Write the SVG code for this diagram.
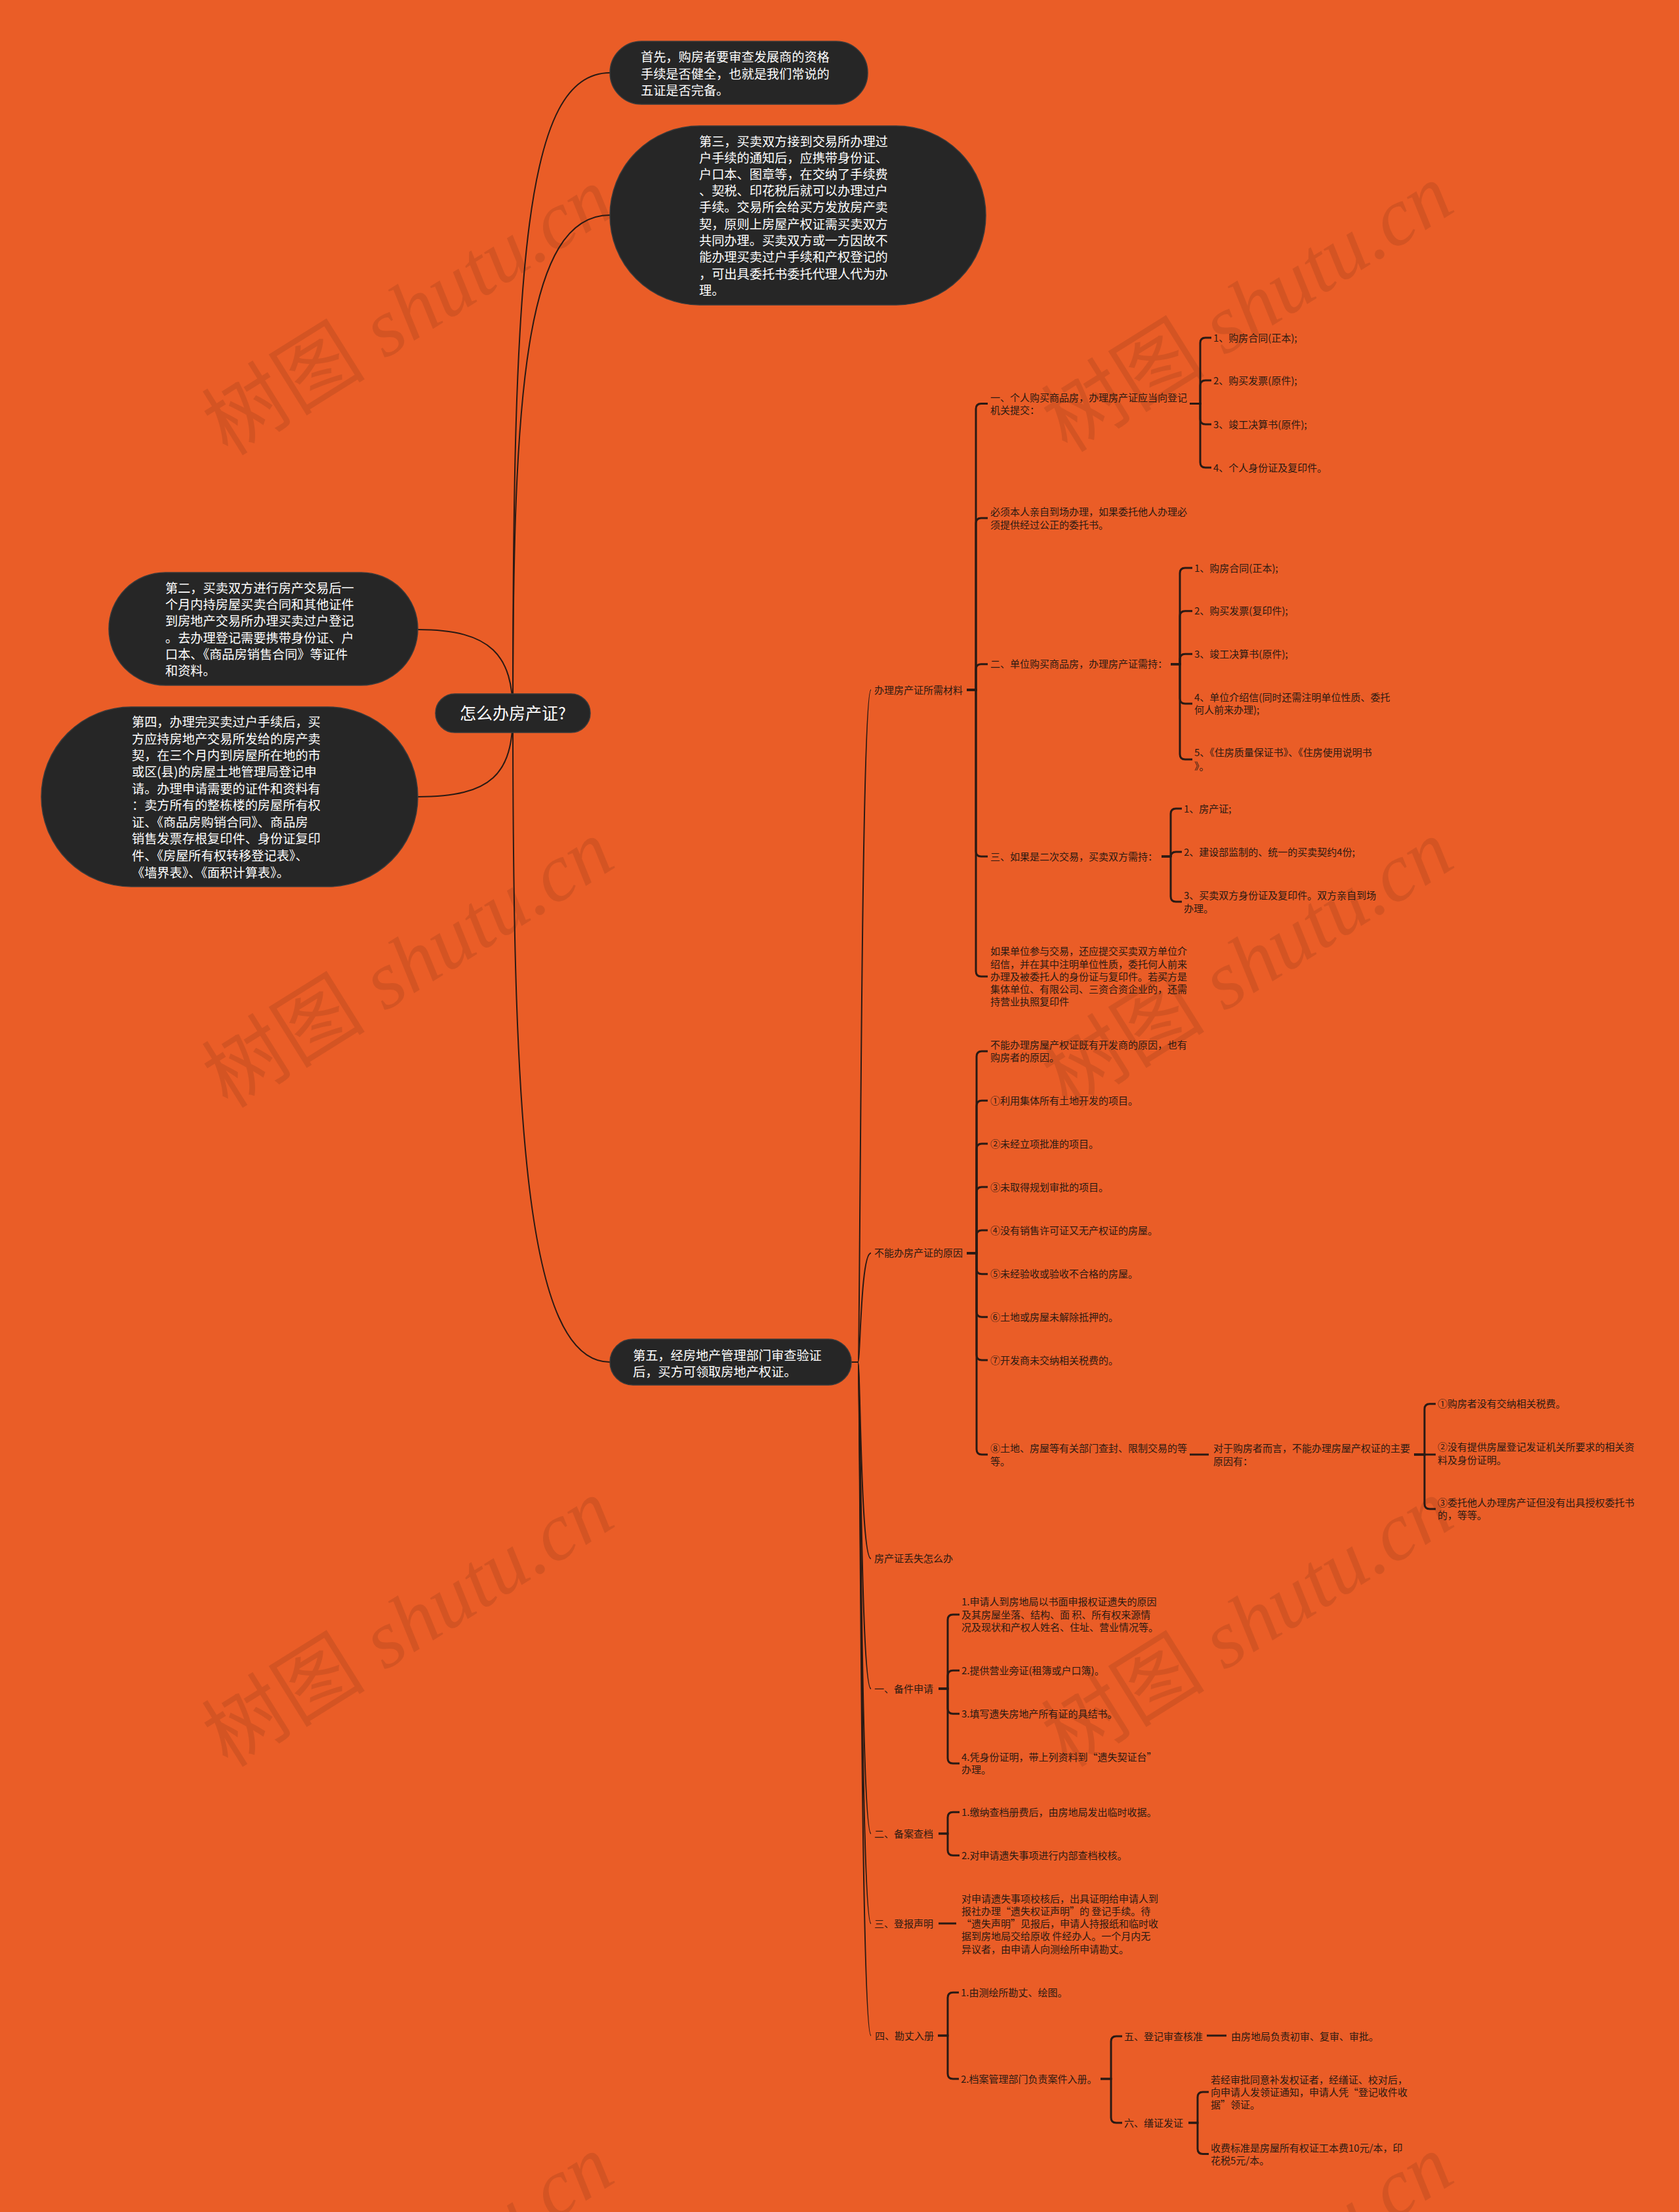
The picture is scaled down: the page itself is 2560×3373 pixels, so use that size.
<svg xmlns="http://www.w3.org/2000/svg" width="2560" height="3373" viewBox="0 0 2560 3373">
<style>
.nd{fill:#262626;stroke:#3a3a3a;stroke-width:1.5}
.nt{fill:#ffffff;font-family:"Noto Sans CJK SC","Noto Sans",sans-serif;font-size:19.2px}
.rt{fill:#ffffff;font-family:"Noto Sans CJK SC","Noto Sans",sans-serif;font-size:25px;text-anchor:middle}
.t{fill:#2b1a12;font-family:"Noto Sans CJK SC","Noto Sans",sans-serif;font-size:15px}
.c{fill:none;stroke:#2a1a14;stroke-width:2}
.b{fill:none;stroke:#2a1a14;stroke-width:3}
.wm{fill:#000000;opacity:0.09;font-size:125px;text-anchor:middle}
.wc{font-family:"Noto Sans CJK SC",serif}
.we{font-family:"Liberation Serif",serif;font-style:italic}
</style>
<rect width="2560" height="3373" fill="#EA5D27"/>
<g id="watermarks">
<text class="wm" transform="translate(645,511) rotate(-32)"><tspan class="wc">树图</tspan><tspan class="we"> shutu.cn</tspan></text>
<text class="wm" transform="translate(1925,506) rotate(-32)"><tspan class="wc">树图</tspan><tspan class="we"> shutu.cn</tspan></text>
<text class="wm" transform="translate(645,1506) rotate(-32)"><tspan class="wc">树图</tspan><tspan class="we"> shutu.cn</tspan></text>
<text class="wm" transform="translate(1925,1506) rotate(-32)"><tspan class="wc">树图</tspan><tspan class="we"> shutu.cn</tspan></text>
<text class="wm" transform="translate(645,2511) rotate(-32)"><tspan class="wc">树图</tspan><tspan class="we"> shutu.cn</tspan></text>
<text class="wm" transform="translate(1925,2511) rotate(-32)"><tspan class="wc">树图</tspan><tspan class="we"> shutu.cn</tspan></text>
<text class="wm" transform="translate(645,3511) rotate(-32)"><tspan class="wc">树图</tspan><tspan class="we"> shutu.cn</tspan></text>
<text class="wm" transform="translate(1925,3511) rotate(-32)"><tspan class="wc">树图</tspan><tspan class="we"> shutu.cn</tspan></text>
</g>
<g id="connectors">
<path class="c" d="M782,1088 C782,400 800,111 930,111"/>
<path class="c" d="M782,1088 C782,600 800,328 930,328"/>
<path class="c" d="M782,1088 C782,1000 750,960 637,960"/>
<path class="c" d="M782,1088 C782,1180 750,1215 637,1215"/>
<path class="c" d="M782,1088 C782,1700 800,2077 930,2077"/>
<path class="c" d="M1298,2077 H1308 C1312,2077 1312,1052 1328,1052"/>
<path class="c" d="M1298,2077 H1308 C1312,2077 1312,1910.7 1328,1910.7"/>
<path class="c" d="M1298,2077 H1308 C1312,2077 1312,2376.7 1328,2376.7"/>
<path class="c" d="M1298,2077 H1308 C1312,2077 1312,2575 1328,2575"/>
<path class="c" d="M1298,2077 H1308 C1312,2077 1312,2796 1328,2796"/>
<path class="c" d="M1298,2077 H1308 C1312,2077 1312,2933 1328,2933"/>
<path class="c" d="M1298,2077 H1308 C1312,2077 1312,3104 1328,3104"/>
<path class="b" d="M1474,1052 H1488 V623.5 Q1488,615.5 1496,615.5 H1506"/>
<path class="b" d="M1474,1052 H1488 V798 Q1488,790 1496,790 H1506"/>
<path class="b" d="M1474,1052 H1488 V1020.7 Q1488,1012.7 1496,1012.7 H1506"/>
<path class="b" d="M1474,1052 H1488 V1298 Q1488,1306 1496,1306 H1506"/>
<path class="b" d="M1474,1052 H1488 V1481 Q1488,1489 1496,1489 H1506"/>
<path class="b" d="M1814,615.5 H1830 V523 Q1830,515 1838,515 H1847"/>
<path class="b" d="M1814,615.5 H1830 V588 Q1830,580 1838,580 H1847"/>
<path class="b" d="M1814,615.5 H1830 V639 Q1830,647 1838,647 H1847"/>
<path class="b" d="M1814,615.5 H1830 V705 Q1830,713 1838,713 H1847"/>
<path class="b" d="M1785,1012.7 H1799 V874 Q1799,866 1807,866 H1818"/>
<path class="b" d="M1785,1012.7 H1799 V939.7 Q1799,931.7 1807,931.7 H1818"/>
<path class="b" d="M1785,1012.7 H1799 V1005.3 Q1799,997.3 1807,997.3 H1818"/>
<path class="b" d="M1785,1012.7 H1799 V1065 Q1799,1073 1807,1073 H1818"/>
<path class="b" d="M1785,1012.7 H1799 V1150 Q1799,1158 1807,1158 H1818"/>
<path class="b" d="M1771,1306 H1785 V1241 Q1785,1233 1793,1233 H1802"/>
<path class="b" d="M1771,1306 H1785 V1307 Q1785,1299 1793,1299 H1802"/>
<path class="b" d="M1771,1306 H1785 V1367 Q1785,1375 1793,1375 H1802"/>
<path class="b" d="M1474,1910.7 H1489 V1611 Q1489,1603 1497,1603 H1506"/>
<path class="b" d="M1474,1910.7 H1489 V1686.3 Q1489,1678.3 1497,1678.3 H1506"/>
<path class="b" d="M1474,1910.7 H1489 V1752 Q1489,1744 1497,1744 H1506"/>
<path class="b" d="M1474,1910.7 H1489 V1818 Q1489,1810 1497,1810 H1506"/>
<path class="b" d="M1474,1910.7 H1489 V1884 Q1489,1876 1497,1876 H1506"/>
<path class="b" d="M1474,1910.7 H1489 V1934.7 Q1489,1942.7 1497,1942.7 H1506"/>
<path class="b" d="M1474,1910.7 H1489 V2000.3 Q1489,2008.3 1497,2008.3 H1506"/>
<path class="b" d="M1474,1910.7 H1489 V2066 Q1489,2074 1497,2074 H1506"/>
<path class="b" d="M1474,1910.7 H1489 V2210 Q1489,2218 1497,2218 H1506"/>
<path class="b" d="M1814,2218 H1843"/>
<path class="b" d="M2156,2218 H2172 V2148.7 Q2172,2140.7 2180,2140.7 H2189"/>
<path class="b" d="M2156,2218 H2189"/>
<path class="b" d="M2156,2218 H2172 V2293 Q2172,2301 2180,2301 H2189"/>
<path class="b" d="M1431,2575 H1445 V2470 Q1445,2462 1453,2462 H1463"/>
<path class="b" d="M1431,2575 H1445 V2555.3 Q1445,2547.3 1453,2547.3 H1463"/>
<path class="b" d="M1431,2575 H1445 V2605.3 Q1445,2613.3 1453,2613.3 H1463"/>
<path class="b" d="M1431,2575 H1445 V2681 Q1445,2689 1453,2689 H1463"/>
<path class="b" d="M1431,2796 H1445 V2771.3 Q1445,2763.3 1453,2763.3 H1463"/>
<path class="b" d="M1431,2796 H1445 V2821.3 Q1445,2829.3 1453,2829.3 H1463"/>
<path class="b" d="M1431,2933 H1458"/>
<path class="b" d="M1430,3104 H1445 V3046.3 Q1445,3038.3 1453,3038.3 H1462"/>
<path class="b" d="M1430,3104 H1445 V3162 Q1445,3170 1453,3170 H1462"/>
<path class="b" d="M1678,3170 H1694 V3113 Q1694,3105 1702,3105 H1711"/>
<path class="b" d="M1678,3170 H1694 V3229 Q1694,3237 1702,3237 H1711"/>
<path class="b" d="M1840,3104 H1870"/>
<path class="b" d="M1812,3237 H1826 V3198 Q1826,3190 1834,3190 H1843"/>
<path class="b" d="M1812,3237 H1826 V3276.5 Q1826,3284.5 1834,3284.5 H1843"/>
</g>
<g id="root">
<rect class="nd" x="664" y="1058" width="236" height="59" rx="29.5"/>
<text class="rt" x="782" y="1097">怎么办房产证?</text>
</g>
<g id="n-first">
<rect class="nd" x="930" y="63" width="393" height="96" rx="48"/>
<text class="nt"><tspan x="977" y="94">首先，购房者要审查发展商的资格</tspan><tspan x="977" y="120">手续是否健全，也就是我们常说的</tspan><tspan x="977" y="145">五证是否完备。</tspan></text>
</g>
<g id="n-third">
<rect class="nd" x="930" y="192" width="573" height="273" rx="136.5"/>
<text class="nt"><tspan x="1066" y="222.7">第三，买卖双方接到交易所办理过</tspan><tspan x="1066" y="248">户手续的通知后，应携带身份证、</tspan><tspan x="1066" y="273">户口本、图章等，在交纳了手续费</tspan><tspan x="1066" y="297.7">、契税、印花税后就可以办理过户</tspan><tspan x="1066" y="322.7">手续。交易所会给买方发放房产卖</tspan><tspan x="1066" y="348.7">契，原则上房屋产权证需买卖双方</tspan><tspan x="1066" y="373.7">共同办理。买卖双方或一方因故不</tspan><tspan x="1066" y="399.3">能办理买卖过户手续和产权登记的</tspan><tspan x="1066" y="425.3">，可出具委托书委托代理人代为办</tspan><tspan x="1066" y="450.3">理。</tspan></text>
</g>
<g id="n-second">
<rect class="nd" x="166" y="873" width="471" height="172" rx="86"/>
<text class="nt"><tspan x="252" y="903.7">第二，买卖双方进行房产交易后一</tspan><tspan x="252" y="929.3">个月内持房屋买卖合同和其他证件</tspan><tspan x="252" y="954.3">到房地产交易所办理买卖过户登记</tspan><tspan x="252" y="980.3">。去办理登记需要携带身份证、户</tspan><tspan x="252" y="1005.3">口本、《商品房销售合同》等证件</tspan><tspan x="252" y="1030.3">和资料。</tspan></text>
</g>
<g id="n-fourth">
<rect class="nd" x="63" y="1078" width="574" height="274" rx="137"/>
<text class="nt"><tspan x="201" y="1107.7">第四，办理完买卖过户手续后，买</tspan><tspan x="201" y="1133.7">方应持房地产交易所发给的房产卖</tspan><tspan x="201" y="1158.7">契，在三个月内到房屋所在地的市</tspan><tspan x="201" y="1184.3">或区(县)的房屋土地管理局登记申</tspan><tspan x="201" y="1209.7">请。办理申请需要的证件和资料有</tspan><tspan x="201" y="1235.3">：卖方所有的整栋楼的房屋所有权</tspan><tspan x="201" y="1261">证、《商品房购销合同》、商品房</tspan><tspan x="201" y="1286.3">销售发票存根复印件、身份证复印</tspan><tspan x="201" y="1312">件、《房屋所有权转移登记表》、</tspan><tspan x="201" y="1337.7">《墙界表》、《面积计算表》。</tspan></text>
</g>
<g id="n-fifth">
<rect class="nd" x="930" y="2042" width="368" height="70" rx="35"/>
<text class="nt"><tspan x="965" y="2074">第五，经房地产管理部门审查验证</tspan><tspan x="965" y="2099">后，买方可领取房地产权证。</tspan></text>
</g>
<g id="n-materials"><text class="t" x="1333" y="1057.5">办理房产证所需材料</text></g>
<g id="n-m1"><text class="t"><tspan x="1510" y="611.5">一、个人购买商品房，办理房产证应当向登记</tspan><tspan x="1510" y="630.5">机关提交：</tspan></text></g>
<g id="n-m1-1"><text class="t" x="1850" y="520.5">1、购房合同(正本);</text></g>
<g id="n-m1-2"><text class="t" x="1850" y="585.5">2、购买发票(原件);</text></g>
<g id="n-m1-3"><text class="t" x="1850" y="652.5">3、竣工决算书(原件);</text></g>
<g id="n-m1-4"><text class="t" x="1850" y="718.5">4、个人身份证及复印件。</text></g>
<g id="n-m-must"><text class="t"><tspan x="1510" y="786.2">必须本人亲自到场办理，如果委托他人办理必</tspan><tspan x="1510" y="805.5">须提供经过公正的委托书。</tspan></text></g>
<g id="n-m2"><text class="t" x="1510" y="1018.2">二、单位购买商品房，办理房产证需持：</text></g>
<g id="n-m2-1"><text class="t" x="1821" y="871.5">1、购房合同(正本);</text></g>
<g id="n-m2-2"><text class="t" x="1821" y="937.2">2、购买发票(复印件);</text></g>
<g id="n-m2-3"><text class="t" x="1821" y="1002.8">3、竣工决算书(原件);</text></g>
<g id="n-m2-4"><text class="t"><tspan x="1821" y="1068.8">4、单位介绍信(同时还需注明单位性质、委托</tspan><tspan x="1821" y="1088.2">何人前来办理);</tspan></text></g>
<g id="n-m2-5"><text class="t"><tspan x="1821" y="1153.2">5、《住房质量保证书》、《住房使用说明书</tspan><tspan x="1821" y="1173.8">》。</tspan></text></g>
<g id="n-m3"><text class="t" x="1510" y="1311.5">三、如果是二次交易，买卖双方需持：</text></g>
<g id="n-m3-1"><text class="t" x="1805" y="1238.5">1、房产证;</text></g>
<g id="n-m3-2"><text class="t" x="1805" y="1304.5">2、建设部监制的、统一的买卖契约4份;</text></g>
<g id="n-m3-3"><text class="t"><tspan x="1805" y="1370.5">3、买卖双方身份证及复印件。双方亲自到场</tspan><tspan x="1805" y="1390.5">办理。</tspan></text></g>
<g id="n-m-unit"><text class="t"><tspan x="1510" y="1456.2">如果单位参与交易，还应提交买卖双方单位介</tspan><tspan x="1510" y="1475.5">绍信，并在其中注明单位性质，委托何人前来</tspan><tspan x="1510" y="1494.5">办理及被委托人的身份证与复印件。若买方是</tspan><tspan x="1510" y="1513.8">集体单位、有限公司、三资合资企业的，还需</tspan><tspan x="1510" y="1532.8">持营业执照复印件</tspan></text></g>
<g id="n-reasons"><text class="t" x="1333" y="1916.2">不能办房产证的原因</text></g>
<g id="n-r0"><text class="t"><tspan x="1510" y="1598.8">不能办理房屋产权证既有开发商的原因，也有</tspan><tspan x="1510" y="1617.8">购房者的原因。</tspan></text></g>
<g id="n-r1"><text class="t" x="1510" y="1683.8">①利用集体所有土地开发的项目。</text></g>
<g id="n-r2"><text class="t" x="1510" y="1749.5">②未经立项批准的项目。</text></g>
<g id="n-r3"><text class="t" x="1510" y="1815.5">③未取得规划审批的项目。</text></g>
<g id="n-r4"><text class="t" x="1510" y="1881.5">④没有销售许可证又无产权证的房屋。</text></g>
<g id="n-r5"><text class="t" x="1510" y="1948.2">⑤未经验收或验收不合格的房屋。</text></g>
<g id="n-r6"><text class="t" x="1510" y="2013.8">⑥土地或房屋未解除抵押的。</text></g>
<g id="n-r7"><text class="t" x="1510" y="2079.5">⑦开发商未交纳相关税费的。</text></g>
<g id="n-r8"><text class="t"><tspan x="1510" y="2214">⑧土地、房屋等有关部门查封、限制交易的等</tspan><tspan x="1510" y="2233.5">等。</tspan></text></g>
<g id="n-buyer"><text class="t"><tspan x="1850" y="2214">对于购房者而言，不能办理房屋产权证的主要</tspan><tspan x="1850" y="2233.5">原因有：</tspan></text></g>
<g id="n-b1"><text class="t" x="2192" y="2146.2">①购房者没有交纳相关税费。</text></g>
<g id="n-b2"><text class="t"><tspan x="2192" y="2212.2">②没有提供房屋登记发证机关所要求的相关资</tspan><tspan x="2192" y="2231.5">料及身份证明。</tspan></text></g>
<g id="n-b3"><text class="t"><tspan x="2192" y="2297.2">③委托他人办理房产证但没有出具授权委托书</tspan><tspan x="2192" y="2316.2">的，等等。</tspan></text></g>
<g id="n-lost"><text class="t" x="1333" y="2382.2">房产证丢失怎么办</text></g>
<g id="n-s1"><text class="t" x="1333" y="2580.5">一、备件申请</text></g>
<g id="n-s1-1"><text class="t"><tspan x="1466" y="2448.2">1.申请人到房地局以书面申报权证遗失的原因</tspan><tspan x="1466" y="2468.2">及其房屋坐落、结构、面 积、所有权来源情</tspan><tspan x="1466" y="2487.2">况及现状和产权人姓名、住址、营业情况等。</tspan></text></g>
<g id="n-s1-2"><text class="t" x="1466" y="2552.8">2.提供营业旁证(租簿或户口簿)。</text></g>
<g id="n-s1-3"><text class="t" x="1466" y="2618.8">3.填写遗失房地产所有证的具结书。</text></g>
<g id="n-s1-4"><text class="t"><tspan x="1466" y="2684.8">4.凭身份证明，带上列资料到“遗失契证台”</tspan><tspan x="1466" y="2703.8">办理。</tspan></text></g>
<g id="n-s2"><text class="t" x="1333" y="2801.5">二、备案查档</text></g>
<g id="n-s2-1"><text class="t" x="1466" y="2768.8">1.缴纳查档册费后，由房地局发出临时收据。</text></g>
<g id="n-s2-2"><text class="t" x="1466" y="2834.8">2.对申请遗失事项进行内部查档校核。</text></g>
<g id="n-s3"><text class="t" x="1333" y="2938.8">三、登报声明</text></g>
<g id="n-s3-1"><text class="t"><tspan x="1466" y="2900.5">对申请遗失事项校核后，出具证明给申请人到</tspan><tspan x="1466" y="2919.5">报社办理“遗失权证声明”的 登记手续。待</tspan><tspan x="1466" y="2938.8">“遗失声明”见报后，申请人持报纸和临时收</tspan><tspan x="1466" y="2958.2">据到房地局交给原收 件经办人。一个月内无</tspan><tspan x="1466" y="2977.8">异议者，由申请人向测绘所申请勘丈。</tspan></text></g>
<g id="n-s4"><text class="t" x="1334" y="3109.8">四、勘丈入册</text></g>
<g id="n-s4-1"><text class="t" x="1465" y="3043.8">1.由测绘所勘丈、绘图。</text></g>
<g id="n-s4-2"><text class="t" x="1465" y="3175.5">2.档案管理部门负责案件入册。</text></g>
<g id="n-s5"><text class="t" x="1714" y="3110.5">五、登记审查核准</text></g>
<g id="n-s5-1"><text class="t" x="1877" y="3110.5">由房地局负责初审、复审、审批。</text></g>
<g id="n-s6"><text class="t" x="1714" y="3242.8">六、缮证发证</text></g>
<g id="n-s6-1"><text class="t"><tspan x="1846" y="3176.5">若经审批同意补发权证者，经缮证、校对后，</tspan><tspan x="1846" y="3195.5">向申请人发领证通知，申请人凭“登记收件收</tspan><tspan x="1846" y="3214.8">据”领证。</tspan></text></g>
<g id="n-s6-2"><text class="t"><tspan x="1846" y="3280.5">收费标准是房屋所有权证工本费10元/本，印</tspan><tspan x="1846" y="3299.5">花税5元/本。</tspan></text></g>
</svg>
